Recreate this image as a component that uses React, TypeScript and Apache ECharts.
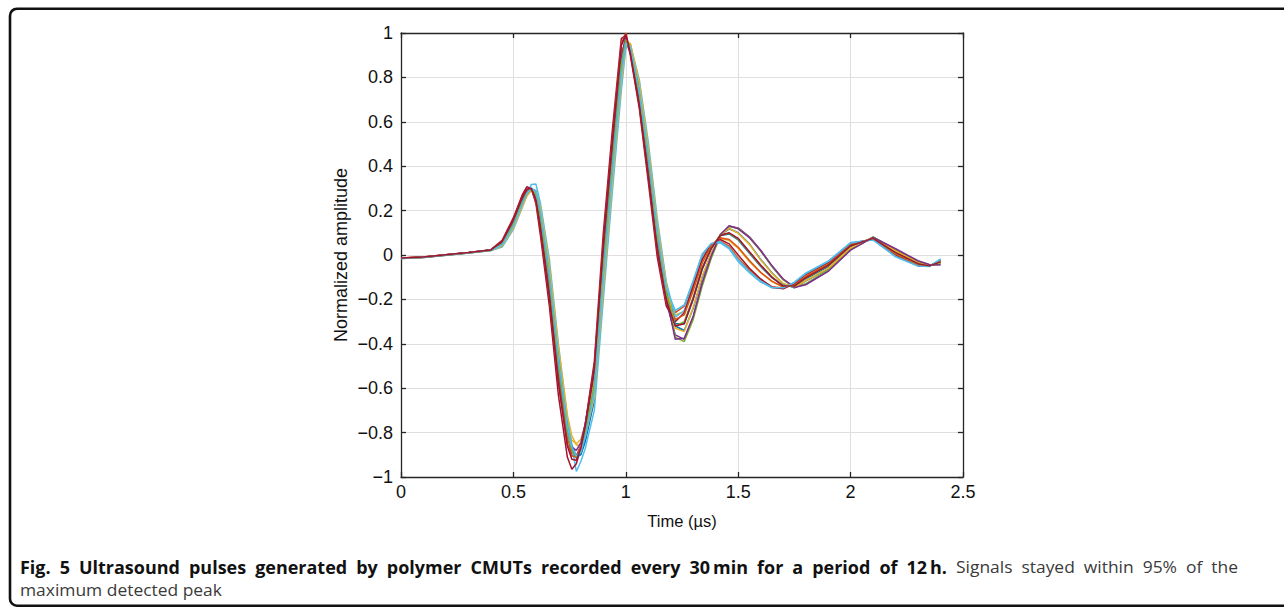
import React, { useEffect, useRef } from "react";
import * as echarts from "echarts";

// Time axis (µs) shared by all recorded pulses
const T = [0, 0.1, 0.2, 0.3, 0.4, 0.45, 0.5, 0.54, 0.56, 0.58, 0.6, 0.62, 0.66, 0.7, 0.74, 0.76, 0.78, 0.8, 0.82, 0.86, 0.9, 0.94, 0.98, 1.0, 1.02, 1.06, 1.1, 1.14, 1.18, 1.22, 1.26, 1.3, 1.34, 1.38, 1.42, 1.46, 1.5, 1.55, 1.6, 1.65, 1.7, 1.75, 1.8, 1.9, 2.0, 2.1, 2.2, 2.3, 2.35, 2.4];

const X_TICKS = [0, 0.5, 1, 1.5, 2, 2.5];
const Y_TICKS = [-1, -0.8, -0.6, -0.4, -0.2, 0, 0.2, 0.4, 0.6, 0.8, 1];

const pulse01 = [-0.016, -0.011, -0.001, 0.009, 0.02, 0.04, 0.123, 0.222, 0.268, 0.296, 0.29, 0.215, -0.053, -0.432, -0.75, -0.858, -0.905, -0.9, -0.84, -0.655, -0.15, 0.329, 0.786, 0.955, 0.945, 0.771, 0.484, 0.139, -0.132, -0.32, -0.34, -0.24, -0.1, 0.005, 0.09, 0.118, 0.1, 0.05, -0.02, -0.08, -0.13, -0.148, -0.118, -0.062, 0.03, 0.078, 0.02, -0.036, -0.048, -0.036];
const pulse02 = [-0.014, -0.009, 0.001, 0.011, 0.023, 0.055, 0.148, 0.249, 0.286, 0.299, 0.257, 0.144, -0.154, -0.534, -0.825, -0.891, -0.909, -0.869, -0.78, -0.542, 0.0, 0.466, 0.9, 0.98, 0.92, 0.7, 0.39, 0.05, -0.19, -0.26, -0.23, -0.12, 0.0, 0.05, 0.062, 0.04, -0.015, -0.068, -0.112, -0.143, -0.149, -0.126, -0.087, -0.032, 0.053, 0.07, -0.003, -0.048, -0.05, -0.022];
const pulse03 = [-0.015, -0.01, 0.0, 0.01, 0.022, 0.05, 0.138, 0.236, 0.275, 0.292, 0.262, 0.165, -0.115, -0.48, -0.77, -0.835, -0.85, -0.83, -0.76, -0.55, -0.05, 0.41, 0.84, 0.95, 0.915, 0.71, 0.415, 0.08, -0.165, -0.27, -0.255, -0.15, -0.03, 0.04, 0.075, 0.065, 0.03, -0.03, -0.08, -0.12, -0.145, -0.135, -0.095, -0.04, 0.048, 0.072, 0.003, -0.045, -0.05, -0.025];
const pulse04 = [-0.014, -0.01, 0.001, 0.01, 0.022, 0.06, 0.157, 0.258, 0.292, 0.296, 0.244, 0.118, -0.187, -0.568, -0.85, -0.902, -0.905, -0.858, -0.76, -0.505, 0.05, 0.52, 0.945, 0.99, 0.91, 0.68, 0.36, 0.02, -0.21, -0.36, -0.38, -0.28, -0.13, -0.01, 0.088, 0.13, 0.122, 0.082, 0.022, -0.05, -0.11, -0.145, -0.132, -0.072, 0.024, 0.08, 0.026, -0.03, -0.046, -0.042];
const pulse05 = [-0.015, -0.01, 0.0, 0.009, 0.021, 0.045, 0.132, 0.231, 0.274, 0.299, 0.283, 0.196, -0.086, -0.466, -0.775, -0.869, -0.909, -0.891, -0.82, -0.618, -0.1, 0.374, 0.823, 0.968, 0.945, 0.746, 0.452, 0.11, -0.151, -0.37, -0.39, -0.29, -0.14, -0.015, 0.085, 0.128, 0.12, 0.08, 0.018, -0.052, -0.112, -0.143, -0.13, -0.068, 0.026, 0.081, 0.024, -0.028, -0.044, -0.04];
const pulse06 = [-0.016, -0.011, -0.001, 0.009, 0.02, 0.036, 0.115, 0.215, 0.272, 0.318, 0.32, 0.235, -0.02, -0.4, -0.73, -0.86, -0.975, -0.93, -0.87, -0.7, -0.2, 0.283, 0.74, 0.93, 0.95, 0.79, 0.51, 0.165, -0.12, -0.28, -0.25, -0.13, -0.01, 0.045, 0.055, 0.028, -0.03, -0.08, -0.122, -0.148, -0.15, -0.122, -0.082, -0.028, 0.056, 0.068, -0.008, -0.05, -0.052, -0.018];
const pulse07 = [-0.014, -0.009, 0.001, 0.011, 0.024, 0.066, 0.168, 0.272, 0.308, 0.298, 0.232, 0.09, -0.23, -0.63, -0.91, -0.965, -0.94, -0.87, -0.76, -0.48, 0.1, 0.56, 0.975, 0.99, 0.9, 0.66, 0.33, -0.01, -0.23, -0.3, -0.26, -0.14, -0.02, 0.048, 0.07, 0.05, 0.0, -0.06, -0.108, -0.145, -0.152, -0.13, -0.088, -0.034, 0.05, 0.072, 0.0, -0.047, -0.05, -0.024];
const pulse08 = [-0.015, -0.01, 0.0, 0.01, 0.021, 0.046, 0.133, 0.232, 0.275, 0.3, 0.284, 0.195, -0.088, -0.468, -0.778, -0.872, -0.915, -0.895, -0.822, -0.62, -0.1, 0.37, 0.82, 0.965, 0.945, 0.745, 0.45, 0.11, -0.15, -0.31, -0.31, -0.2, -0.065, 0.028, 0.088, 0.095, 0.068, 0.008, -0.052, -0.102, -0.138, -0.142, -0.107, -0.052, 0.038, 0.076, 0.012, -0.04, -0.05, -0.03];
const pulse09 = [-0.014, -0.009, 0.001, 0.01, 0.023, 0.06, 0.158, 0.26, 0.294, 0.298, 0.246, 0.12, -0.19, -0.57, -0.855, -0.905, -0.91, -0.86, -0.765, -0.51, 0.05, 0.515, 0.95, 1.0, 0.915, 0.68, 0.36, 0.02, -0.21, -0.29, -0.27, -0.16, -0.035, 0.042, 0.078, 0.07, 0.035, -0.025, -0.078, -0.118, -0.144, -0.135, -0.097, -0.042, 0.047, 0.073, 0.004, -0.045, -0.05, -0.026];
const pulse10 = [-0.016, -0.011, -0.001, 0.009, 0.02, 0.04, 0.122, 0.22, 0.265, 0.292, 0.287, 0.215, -0.045, -0.41, -0.72, -0.815, -0.855, -0.86, -0.815, -0.64, -0.15, 0.33, 0.78, 0.95, 0.955, 0.775, 0.485, 0.14, -0.13, -0.33, -0.345, -0.235, -0.095, 0.008, 0.092, 0.12, 0.098, 0.048, -0.022, -0.082, -0.128, -0.146, -0.116, -0.06, 0.032, 0.078, 0.018, -0.035, -0.048, -0.034];
const pulse11 = [-0.015, -0.01, 0.0, 0.01, 0.022, 0.054, 0.147, 0.248, 0.284, 0.297, 0.255, 0.142, -0.15, -0.52, -0.8, -0.865, -0.88, -0.845, -0.76, -0.53, 0.0, 0.465, 0.895, 0.98, 0.92, 0.7, 0.39, 0.05, -0.19, -0.38, -0.375, -0.275, -0.125, -0.005, 0.092, 0.132, 0.118, 0.078, 0.02, -0.048, -0.108, -0.146, -0.134, -0.074, 0.022, 0.079, 0.028, -0.026, -0.043, -0.045];
const pulse12 = [-0.015, -0.01, 0.0, 0.01, 0.022, 0.05, 0.14, 0.24, 0.28, 0.3, 0.27, 0.17, -0.12, -0.5, -0.8, -0.88, -0.91, -0.88, -0.8, -0.58, -0.05, 0.42, 0.86, 0.97, 0.93, 0.72, 0.42, 0.08, -0.17, -0.32, -0.3, -0.19, -0.055, 0.032, 0.09, 0.098, 0.072, 0.012, -0.048, -0.098, -0.14, -0.14, -0.104, -0.048, 0.041, 0.075, 0.01, -0.04, -0.05, -0.03];
const pulse13 = [-0.015, -0.01, 0.0, 0.01, 0.021, 0.045, 0.132, 0.232, 0.276, 0.302, 0.286, 0.198, -0.084, -0.46, -0.77, -0.865, -0.905, -0.89, -0.818, -0.615, -0.1, 0.37, 0.815, 0.955, 0.94, 0.74, 0.45, 0.11, -0.15, -0.25, -0.225, -0.115, 0.005, 0.052, 0.06, 0.032, -0.022, -0.075, -0.118, -0.146, -0.148, -0.124, -0.084, -0.03, 0.054, 0.069, -0.006, -0.049, -0.051, -0.02];
const pulse14 = [-0.014, -0.009, 0.001, 0.011, 0.023, 0.061, 0.16, 0.262, 0.297, 0.3, 0.248, 0.12, -0.19, -0.575, -0.86, -0.92, -0.925, -0.87, -0.77, -0.51, 0.05, 0.515, 0.945, 0.995, 0.91, 0.675, 0.355, 0.02, -0.205, -0.32, -0.31, -0.195, -0.06, 0.03, 0.088, 0.1, 0.075, 0.015, -0.045, -0.1, -0.14, -0.139, -0.103, -0.047, 0.042, 0.075, 0.011, -0.039, -0.049, -0.031];

const PULSES = [pulse01, pulse02, pulse03, pulse04, pulse05, pulse06, pulse07, pulse08, pulse09, pulse10, pulse11, pulse12, pulse13, pulse14];
const COLORS = ["#0072BD", "#D95319", "#EDB120", "#7E2F8E", "#77AC30", "#4DBEEE", "#A2142F"];

const X_NAME = "Time (\u00b5s)";
const Y_NAME = "Normalized amplitude";
const CAPTION_BOLD = "Fig. 5 Ultrasound pulses generated by polymer CMUTs recorded every 30\u2009min for a period of 12\u2009h.";
const CAPTION_REST = "Signals stayed within 95% of the";
const CAPTION_LINE2 = "maximum detected peak";

const AX = "#262626";
const FONT = "'Liberation Sans', Arial, Helvetica, sans-serif";

function fmt(v: number): string {
  const r = Math.round(v * 10) / 10;
  if (r < 0) return "\u2212" + String(-r);
  return String(r);
}

function measure(text: string, font: string): number {
  const c = document.createElement("canvas");
  const ctx = c.getContext("2d");
  if (!ctx) return text.length * 8;
  ctx.font = font;
  return ctx.measureText(text).width;
}

export default function App() {
  const ref = useRef<HTMLDivElement>(null);
  useEffect(() => {
    if (!ref.current) return;
    const chart = echarts.init(ref.current, undefined, { renderer: "svg" });

    // caption layout: justified first line (bold 20..947, regular 956..1238)
    const capSize = 17;
    const boldFont = `bold ${capSize}px 'Open Sans'`;
    const normFont = `${capSize}px 'Open Sans'`;
    const left = 20;
    const gap = 9;
    const boldWords = CAPTION_BOLD.split(" ");
    const restWords = CAPTION_REST.split(" ");
    const restNat = restWords.map((w) => measure(w, normFont));
    const boldNat = boldWords.map((w) => measure(w, boldFont));
    const restStart = 956;
    const restEnd = 1238;
    const boldEnd = restStart - gap;
    const sxN = (restEnd - restStart - gap * (restWords.length - 1)) / restNat.reduce((a, b) => a + b, 0);
    const sxB = (boldEnd - left - gap * (boldWords.length - 1)) / boldNat.reduce((a, b) => a + b, 0);

    const capEls: any[] = [];
    const mk = (t: string, x: number, y: number, font: string, sx: number, fill: string) => ({
      type: "text",
      x,
      y,
      scaleX: sx,
      silent: true,
      style: { text: t, x: 0, y: 0, font, fill, align: "left", verticalAlign: "middle", textAlign: "left", textVerticalAlign: "middle" },
    });
    let cx = left;
    boldWords.forEach((w, i) => {
      capEls.push(mk(w, cx, 567, boldFont, sxB, "#111"));
      cx += boldNat[i] * sxB + gap;
    });
    cx = restStart;
    restWords.forEach((w, i) => {
      capEls.push(mk(w, cx, 567, normFont, sxN, "#3a3a3a"));
      cx += restNat[i] * sxN + gap;
    });
    capEls.push(mk(CAPTION_LINE2, left, 590, normFont, sxN, "#3a3a3a"));

    const axisCommon = {
      type: "value" as const,
      axisLine: { show: true, onZero: false, lineStyle: { color: AX, width: 1.3 } },
      axisTick: { show: true, inside: true, length: 5, lineStyle: { color: AX, width: 1.3 } },
    };

    const option: any = {
      animation: false,
      backgroundColor: "#ffffff",
      grid: { left: 401, top: 33, width: 562, height: 444, containLabel: false },
      xAxis: [
        {
          ...axisCommon,
          position: "bottom",
          min: X_TICKS[0],
          max: X_TICKS[X_TICKS.length - 1],
          interval: 0.5,
          axisLabel: { show: true, margin: 6, fontSize: 18, color: "#111", fontFamily: FONT, formatter: (v: number) => fmt(v) },
          splitLine: { show: true, lineStyle: { color: "#dfdfdf", width: 1 } },
          name: X_NAME,
          nameLocation: "middle",
          nameGap: 35,
          nameTextStyle: { fontSize: 16.5, color: "#111", fontFamily: FONT },
        },
        {
          ...axisCommon,
          position: "top",
          min: X_TICKS[0],
          max: X_TICKS[X_TICKS.length - 1],
          interval: 0.5,
          axisLabel: { show: false },
          splitLine: { show: false },
        },
      ],
      yAxis: [
        {
          ...axisCommon,
          position: "left",
          min: Y_TICKS[0],
          max: Y_TICKS[Y_TICKS.length - 1],
          interval: 0.2,
          axisLabel: { show: true, margin: 8, fontSize: 18, color: "#111", fontFamily: FONT, formatter: (v: number) => fmt(v) },
          splitLine: { show: true, lineStyle: { color: "#dfdfdf", width: 1 } },
          name: Y_NAME,
          nameLocation: "middle",
          nameGap: 51,
          nameTextStyle: { fontSize: 18, color: "#111", fontFamily: FONT },
        },
        {
          ...axisCommon,
          position: "right",
          min: Y_TICKS[0],
          max: Y_TICKS[Y_TICKS.length - 1],
          interval: 0.2,
          axisLabel: { show: false },
          splitLine: { show: false },
        },
      ],
      series: PULSES.map((p, i) => ({
        type: "line",
        xAxisIndex: 0,
        yAxisIndex: 0,
        data: T.map((t, j) => [t, p[j]]),
        showSymbol: false,
        symbol: "none",
        lineStyle: { color: COLORS[i % COLORS.length], width: 1.5 },
        itemStyle: { color: COLORS[i % COLORS.length] },
        emphasis: { disabled: true },
        z: 2 + i,
      })),
      graphic: [
        {
          type: "rect",
          silent: true,
          shape: { x: 10, y: 8.7, width: 1300, height: 597, r: 7 },
          style: { fill: "none", stroke: "#111", lineWidth: 2.6 },
          z: 100,
        },
        ...capEls,
      ],
    };
    chart.setOption(option);
    return () => chart.dispose();
  }, []);
  return <div ref={ref} style={{ position: "absolute", left: 0, top: 0, width: 1284, height: 608 }} />;
}
